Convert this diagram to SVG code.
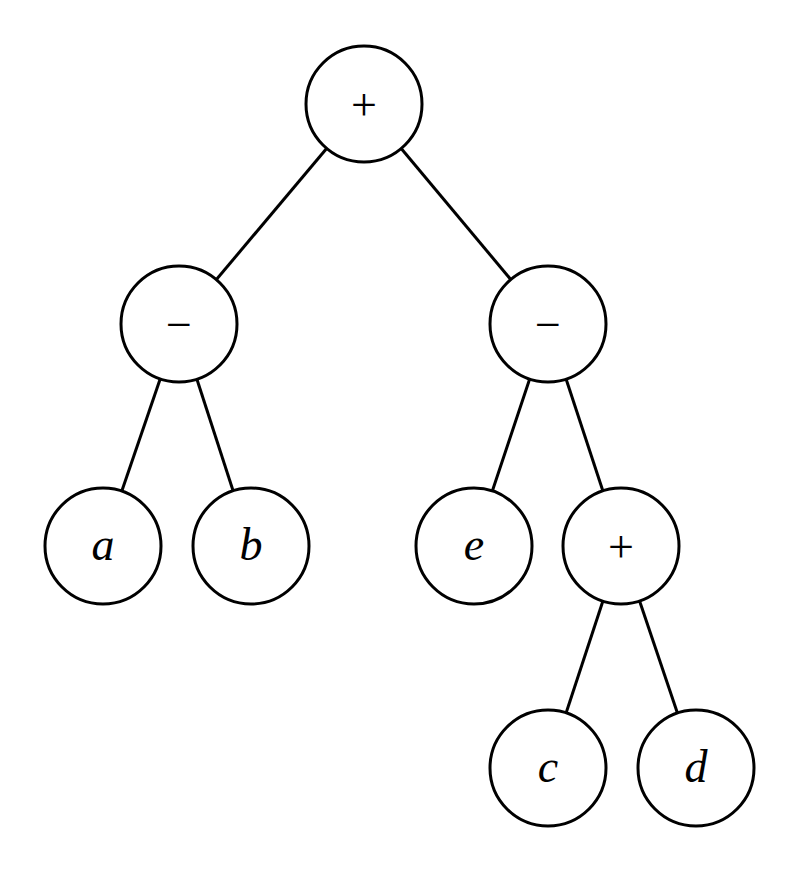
<svg xmlns="http://www.w3.org/2000/svg" width="800" height="872" viewBox="0 0 800 872">
<style>
.n{fill:#fff;stroke:#000;stroke-width:3}
.e line{stroke:#000;stroke-width:3}
.t{font-family:"Liberation Serif",serif;font-size:46px;text-anchor:middle;dominant-baseline:central}
.i{font-style:italic}
</style>
<rect width="800" height="872" fill="#fff"/>
<g class="e" id="edges">
<line x1="364" y1="104" x2="179" y2="324"/>
<line x1="364" y1="104" x2="548" y2="324"/>
<line x1="179" y1="324" x2="103" y2="546"/>
<line x1="179" y1="324" x2="251" y2="546"/>
<line x1="548" y1="324" x2="474" y2="546"/>
<line x1="548" y1="324" x2="621" y2="546"/>
<line x1="621" y1="546" x2="548" y2="768"/>
<line x1="621" y1="546" x2="696" y2="768"/>
</g>
<g id="root"><circle class="n" cx="364" cy="104" r="58"/><text class="t" x="364" y="104">+</text></g>
<g id="m1"><circle class="n" cx="179" cy="324" r="58"/><text class="t" x="179" y="324">−</text></g>
<g id="m2"><circle class="n" cx="548" cy="324" r="58"/><text class="t" x="548" y="324">−</text></g>
<g id="a"><circle class="n" cx="103" cy="546" r="58"/><text class="t i" x="103" y="544">a</text></g>
<g id="b"><circle class="n" cx="251" cy="546" r="58"/><text class="t i" x="251" y="544">b</text></g>
<g id="e"><circle class="n" cx="474" cy="546" r="58"/><text class="t i" x="474" y="544">e</text></g>
<g id="p2"><circle class="n" cx="621" cy="546" r="58"/><text class="t" x="621" y="546">+</text></g>
<g id="c"><circle class="n" cx="548" cy="768" r="58"/><text class="t i" x="548" y="766">c</text></g>
<g id="d"><circle class="n" cx="696" cy="768" r="58"/><text class="t i" x="696" y="766">d</text></g>
</svg>
